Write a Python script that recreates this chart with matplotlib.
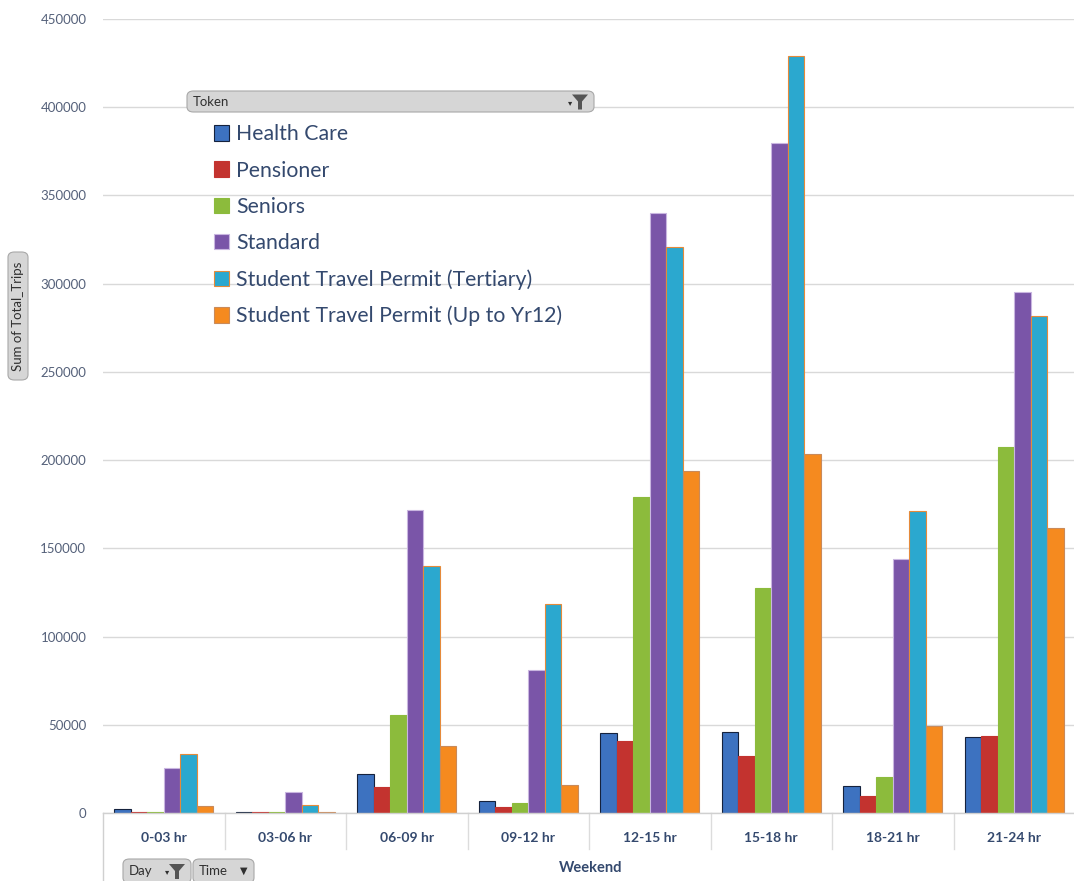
import matplotlib
matplotlib.use('Agg')
import matplotlib.pyplot as plt
import numpy as np
from matplotlib.patches import FancyBboxPatch, Polygon
from matplotlib.transforms import blended_transform_factory

plt.rcParams['font.family'] = ['Lato', 'DejaVu Sans']

# pivot data: Sum of Total_Trips by 3-hour slot, weekend only
time_slots = ['0-03 hr', '03-06 hr', '06-09 hr', '09-12 hr',
              '12-15 hr', '15-18 hr', '18-21 hr', '21-24 hr']
tokens = ['Health Care', 'Pensioner', 'Seniors', 'Standard',
          'Student Travel Permit (Tertiary)', 'Student Travel Permit (Up to Yr12)']

health_care = [2300, 700, 21900, 6600, 45300, 45900, 15100, 42900]
pensioner = [700, 500, 14700, 3200, 40800, 32100, 9400, 43800]
seniors = [500, 400, 55300, 5700, 179000, 127500, 20400, 207700]
standard = [25500, 11900, 171600, 81000, 340100, 379500, 143800, 295400]
tertiary = [33600, 4300, 140000, 118700, 320800, 429200, 171200, 281800]
up_to_yr12 = [3700, 800, 37700, 15900, 193900, 203500, 49500, 161700]

series = [health_care, pensioner, seniors, standard, tertiary, up_to_yr12]
face_colors = ['#3d72c0', '#c3332f', '#8cbb3c', '#7a55a8', '#2ba8cf', '#f58a1f']
edge_colors = ['#15223d', '#c3332f', '#8cbb3c', '#c9b6e0', '#e58a3a', '#c98a5a']

text_col = '#34496e'
W, H = 1074, 881

fig = plt.figure(figsize=(W / 100, H / 100), dpi=100)
ax = fig.add_axes([103 / W, 68 / H, 972 / W, 794 / H])

x = np.arange(len(time_slots))
bw = 0.136
handles = []
for i, vals in enumerate(series):
    b = ax.bar(x + (i - 2.5) * bw, vals, bw, color=face_colors[i],
               edgecolor=edge_colors[i], linewidth=0.8, zorder=3, label=tokens[i])
    handles.append(b)

ax.set_xlim(-0.5, len(time_slots) - 0.5)
ax.set_ylim(0, 450000)
ax.set_yticks(np.arange(0, 450001, 50000))
ax.yaxis.grid(True, color='#d9d9d9', linewidth=1, zorder=0)
ax.tick_params(axis='y', length=0, pad=12, labelsize=9.5, labelcolor='#55617a')
for s in ax.spines.values():
    s.set_visible(False)

ax.set_xticks(x)
ax.set_xticklabels(time_slots, fontsize=10, fontweight='bold', color=text_col)
ax.tick_params(axis='x', length=0, pad=14)

# category table lines under the axis
trans = blended_transform_factory(ax.transData, ax.transAxes)
ax.plot([-0.5, len(time_slots) - 0.5], [0, 0], color='#d0d0d0', lw=1,
        transform=trans, clip_on=False, zorder=4)
for k in range(1, len(time_slots) + 1):
    ax.plot([k - 0.5, k - 0.5], [0, -36 / 794], color='#dcdcdc', lw=1,
            transform=trans, clip_on=False)
ax.plot([-0.5, -0.5], [0, -68 / 794], color='#d0d0d0', lw=1,
        transform=trans, clip_on=False)

fig.text(591 / W, 1 - 868 / H, 'Weekend', ha='center', va='center',
         fontsize=10.5, fontweight='bold', color=text_col)

leg = ax.legend(handles=handles, loc='upper left',
                bbox_to_anchor=(205 / W, 1 - 116 / H), bbox_transform=fig.transFigure,
                frameon=False, fontsize=15.3, handlelength=0.75, handleheight=0.75,
                handletextpad=0.3, labelspacing=0.76, borderaxespad=0)
for t in leg.get_texts():
    t.set_color(text_col)


def field_button(x0, y0, w, h, label, rotate=False, icon=None):
    # rounded grey pivot field button, pixel coords from top-left
    box = FancyBboxPatch((x0 / W, 1 - (y0 + h) / H), w / W, h / H,
                         boxstyle='round,pad=0,rounding_size=0.006',
                         transform=fig.transFigure, facecolor='#d6d6d6',
                         edgecolor='#a8a8a8', linewidth=0.8, zorder=5)
    fig.add_artist(box)
    if rotate:
        fig.text((x0 + w / 2) / W, 1 - (y0 + h / 2) / H, label, rotation=90,
                 ha='center', va='center', fontsize=9.5, color='#303030', zorder=6)
    else:
        fig.text((x0 + 6) / W, 1 - (y0 + h / 2) / H, label,
                 ha='left', va='center', fontsize=9.5, color='#303030', zorder=6)
    if icon == 'filter':
        cx, cy = x0 + w - 14, y0 + h / 2
        pts = [(cx - 8, cy - 7), (cx + 8, cy - 7), (cx + 2, cy), (cx + 2, cy + 8),
               (cx - 2, cy + 8), (cx - 2, cy)]
        fig.add_artist(Polygon([(px / W, 1 - py / H) for px, py in pts], closed=True,
                               transform=fig.transFigure, facecolor='#555555',
                               edgecolor='none', zorder=6))
        fig.text((cx - 10) / W, 1 - (cy + 1) / H, '\u25be', ha='center', va='center',
                 fontsize=6, color='#303030', zorder=6, family='DejaVu Sans')
    elif icon == 'arrow':
        fig.text((x0 + w - 10) / W, 1 - (y0 + h / 2) / H, '\u25bc', ha='center',
                 va='center', fontsize=7, color='#303030', zorder=6, family='DejaVu Sans')


field_button(187, 91, 407, 21, 'Token', icon='filter')
field_button(8, 252, 20, 128, 'Sum of Total_Trips', rotate=True)
field_button(123, 859, 68, 24, 'Day', icon='filter')
field_button(193, 859, 61, 24, 'Time', icon='arrow')

fig.savefig('out.png', dpi=100, facecolor='white')
